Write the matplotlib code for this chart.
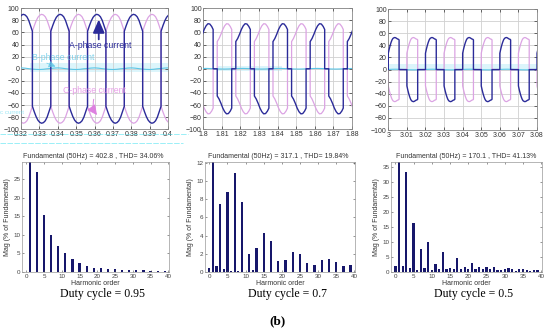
import numpy as np
import matplotlib
matplotlib.use("Agg")
import matplotlib.pyplot as plt
from matplotlib.lines import Line2D

plt.rcParams['font.family'] = ['Liberation Sans', 'DejaVu Sans']

# ---- waveform data (one positive half cycle, offset in ms, current in A) ----
# negative half is the mirror, the period is 20 ms (50 Hz)
d95_ms = [0, 1, 2, 3, 4, 5, 6, 7, 8, 9, 10]
d95_val = [62, 71, 79, 85, 88.5, 90, 89, 86, 80, 71, 62]
d70_ms = [0, 0, 1, 2, 3, 4, 5, 6, 7, 7.8, 7.8, 10]
d70_val = [0, 45, 50, 57, 65, 71, 74.5, 74, 70, 65, 0, 0]
d50_ms = [0, 0, 0.5, 1, 1.5, 2, 2.5, 3, 3.5, 4, 4.5, 5, 5.5, 5.8, 5.8, 10]
d50_val = [0, 27, 34, 40, 45, 49, 51.5, 52.5, 53, 52.5, 51.5, 50.5, 50, 49, 0, 0]
# small ripple on B-phase, one period
b_ms = [0, 2, 4, 6, 8, 10, 12, 14, 16, 18]
b_val = [0.5, 1.2, 1.5, 1.0, 0.2, -0.5, -1.0, -1.2, -0.8, 0.0]

wave_start = [0.3162, 1.7975, 3.0]          # time of a positive rising edge
t_lims = [(0.32, 0.4), (1.8, 1.88), (3.0, 3.08)]
t_ticks = [
    [0.32, 0.33, 0.34, 0.35, 0.36, 0.37, 0.38, 0.39, 0.4],
    [1.8, 1.81, 1.82, 1.83, 1.84, 1.85, 1.86, 1.87, 1.88],
    [3.0, 3.01, 3.02, 3.03, 3.04, 3.05, 3.06, 3.07, 3.08],
]
t_ticklabels = [
    ['0.32', '0.33', '0.34', '0.35', '0.36', '0.37', '0.38', '0.39', '0.4'],
    ['1.8', '1.81', '1.82', '1.83', '1.84', '1.85', '1.86', '1.87', '1.88'],
    ['3', '3.01', '3.02', '3.03', '3.04', '3.05', '3.06', '3.07', '3.08'],
]
i_ticks = [-100, -80, -60, -40, -20, 0, 20, 40, 60, 80, 100]

# ---- harmonic spectra (% of fundamental), orders 0..39 ----
orders = list(range(40))
spec95 = [0, 100, 0, 27.0, 0, 15.4, 0, 10.1, 0, 7.1, 0, 5.05, 0, 3.6, 0, 2.5,
          0, 1.7, 0, 1.2, 0, 0.95, 0, 0.8, 0, 0.7, 0, 0.65, 0, 0.6, 0, 0.5,
          0, 0.45, 0, 0.4, 0, 0.35, 0, 0.3]
spec70 = [0.4, 100, 0.62, 7.45, 0.3, 8.76, 0.1, 10.87, 0.1, 7.67, 0.05, 2.0,
          0.2, 2.65, 0.05, 4.33, 0.05, 3.42, 0.05, 1.2, 0.05, 1.27, 0.05, 2.25,
          0.05, 1.93, 0.05, 1.02, 0.05, 0.8, 0.05, 1.27, 0.05, 1.38, 0.05, 1.05,
          0.05, 0.62, 0.05, 0.8]
spec50 = [2.0, 100, 2.0, 33.3, 1.3, 16.4, 0.8, 7.7, 1.2, 10.0, 0.8, 2.7, 1.1,
          6.8, 0.9, 1.2, 1.1, 4.6, 1.0, 1.6, 0.9, 2.9, 1.0, 1.8, 0.9, 1.6, 1.1,
          1.7, 0.7, 0.8, 0.9, 1.4, 1.0, 0.3, 0.9, 0.9, 0.8, 0.4, 0.8, 0.7]
spec_top = [29.7, 12.1, 36.7]
spec_ticks = [[0, 5, 10, 15, 20, 25], [0, 2, 4, 6, 8, 10, 12],
              [0, 5, 10, 15, 20, 25, 30, 35]]
fund = ['402.8', '317.1', '170.1']
thd = ['34.06', '19.84', '41.13']
duty = ['0.95', '0.7', '0.5']

A_COL = '#2b2b99'
C_COL = '#dba3e3'
B_COL = '#5cc6e6'
BAR_COL = '#17176b'


def build_wave(ms, val, t0, t_end):
    one_t = np.concatenate([np.array(ms), np.array(ms) + 10.0]) / 1000.0
    one_v = np.concatenate([np.array(val), -np.array(val)])
    ts, vs = [], []
    k = 0
    while t0 + k * 0.02 < t_end:
        ts.append(t0 + k * 0.02 + one_t)
        vs.append(one_v)
        k += 1
    return np.concatenate(ts), np.concatenate(vs)


def build_ripple(t0, t_end, scale):
    ts, vs = [], []
    k = 0
    while t0 + k * 0.02 < t_end:
        ts.append(t0 + k * 0.02 + np.array(b_ms) / 1000.0)
        vs.append(np.array(b_val) * scale)
        k += 1
    return np.concatenate(ts), np.concatenate(vs)


fig = plt.figure(figsize=(5.5, 3.31), dpi=100)

top_pos = [[0.0382, 0.6094, 0.2673, 0.3656],
           [0.3696, 0.6094, 0.2704, 0.3656],
           [0.7060, 0.6070, 0.2704, 0.3656]]
bot_pos = [[0.0400, 0.1782, 0.2673, 0.3323],
           [0.3727, 0.1782, 0.2727, 0.3323],
           [0.7109, 0.1782, 0.2745, 0.3323]]
profiles = [(d95_ms, d95_val), (d70_ms, d70_val), (d50_ms, d50_val)]
band = [(0.06, 1.0, -6, 9), (0.09, 0.53, -3, 5), (0.0, 1.0, -2, 10)]
ripple = [1.0, 0.4, 0.4]

for i in range(3):
    ax = fig.add_axes(top_pos[i])
    lo, hi = t_lims[i]
    ms, val = profiles[i]
    t, a = build_wave(ms, val, wave_start[i] - 0.04, hi + 0.01)
    tb, b = build_ripple(wave_start[i] - 0.04, hi + 0.01, ripple[i])
    x0, x1, y0, y1 = band[i]
    ax.axhspan(y0, y1, xmin=x0, xmax=x1, color='#dcf5fb', zorder=0, lw=0)
    ax.plot(t, -a, color=C_COL, lw=0.9, zorder=2)
    ax.plot(tb, b, color=B_COL, lw=0.8, zorder=3)
    ax.plot(t, a, color=A_COL, lw=1.0, zorder=4)
    ax.set_xlim(lo, hi)
    ax.set_ylim(-100, 100)
    ax.set_xticks(t_ticks[i])
    ax.set_xticklabels(t_ticklabels[i])
    ax.set_yticks(i_ticks)
    ax.grid(True, color='#d0d0d0', lw=0.6)
    ax.set_axisbelow(True)
    ax.tick_params(labelsize=5.0, direction='in', length=2, width=0.5,
                   pad=1.2, colors='#333333', top=True, right=True)
    for s in ax.spines.values():
        s.set_color('#888888')
        s.set_linewidth(0.6)

    if i == 0:
        ax.text(0.3461, 38, 'A-phase current', color=A_COL, fontsize=6.3,
                va='center', ha='left', zorder=6)
        ax.annotate('', xy=(0.3623, 86), xytext=(0.3623, 44),
                    arrowprops=dict(arrowstyle='-|>,head_width=0.35,head_length=0.8',
                                    color=A_COL, lw=1.3), zorder=6)
        ax.text(0.3261, 18, 'B-phase current', color=B_COL, fontsize=6.3,
                va='center', ha='left', alpha=0.75, zorder=6)
        ax.annotate('', xy=(0.3402, 2), xytext=(0.3326, 11),
                    arrowprops=dict(arrowstyle='-|>,head_width=0.2,head_length=0.4',
                                    color=B_COL, lw=0.6, alpha=0.7), zorder=6)
        ax.text(0.3429, -36, 'C-phase current', color='#e48ee4', fontsize=6.3,
                va='center', ha='left', alpha=0.85, zorder=6)
        ax.annotate('', xy=(0.3623, -80), xytext=(0.3600, -46),
                    arrowprops=dict(arrowstyle='-|>,head_width=0.3,head_length=0.6',
                                    color='#dd80e0', lw=0.7,
                                    connectionstyle='arc3,rad=0.3'), zorder=6)

for i, spec in enumerate([spec95, spec70, spec50]):
    ax = fig.add_axes(bot_pos[i])
    ax.bar(orders, spec, width=0.62, color=BAR_COL, lw=0)
    ax.set_xlim(-1.2, 40.2)
    ax.set_ylim(0, spec_top[i])
    ax.set_xticks([0, 5, 10, 15, 20, 25, 30, 35, 40])
    ax.set_yticks(spec_ticks[i])
    ax.tick_params(labelsize=4.5, direction='in', length=1.5, width=0.4,
                   pad=1.2, colors='#444444', top=True, right=True)
    for s in ax.spines.values():
        s.set_color('#999999')
        s.set_linewidth(0.5)
    ax.set_xlabel('Harmonic order', fontsize=5, labelpad=1, color='#333333')
    ax.set_ylabel('Mag (% of Fundamental)', fontsize=5, labelpad=2, color='#333333')
    ax.text(0.96, 1.015, 'Fundamental (50Hz) = %s , THD= %s%%' % (fund[i], thd[i]),
            transform=ax.transAxes, ha='right', va='bottom', fontsize=5,
            color='#333333')
    cx = bot_pos[i][0] + bot_pos[i][2] * 0.55
    fig.text(cx, 1 - 294 / 331, 'Duty cycle = %s' % duty[i], ha='center',
             va='center', fontsize=8.5, family=['Liberation Serif', 'DejaVu Serif'])

fig.text(278 / 550, 1 - 321 / 331, '(b)', ha='center', va='center', fontsize=9.5,
         family=['Liberation Serif', 'DejaVu Serif'], weight='bold')

# faint cyan artefacts below the first scope trace
for y, x1 in [(134, 188), (143, 183)]:
    fig.add_artist(Line2D([0, x1 / 550], [1 - y / 331, 1 - y / 331],
                          color='#4fe3f2', lw=0.5, alpha=0.8, ls=(0, (8, 2))))
fig.text(0.0, 1 - 113 / 331, 'c current', color='#5fd8ee', fontsize=4.5,
         alpha=0.6, va='center')

fig.savefig('out.png', dpi=100)
